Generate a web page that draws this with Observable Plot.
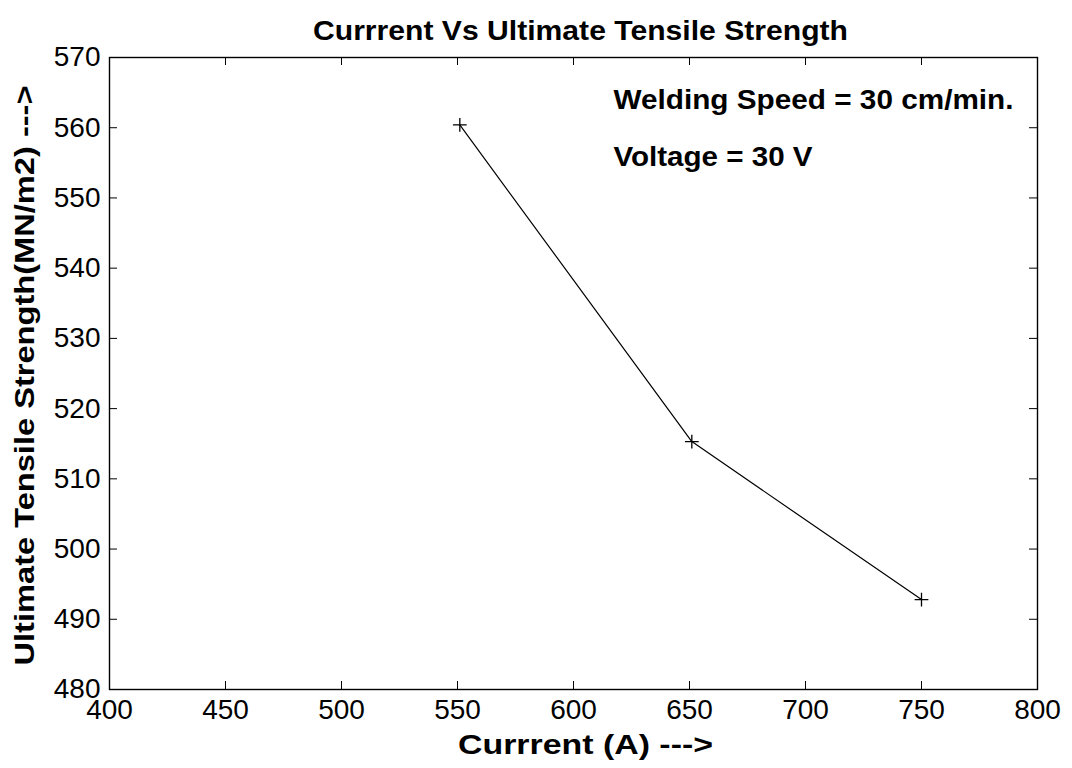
<!DOCTYPE html>
<html><head><meta charset="utf-8">
<script src="https://cdn.jsdelivr.net/npm/d3@7"></script>
<script src="https://cdn.jsdelivr.net/npm/@observablehq/plot@0.6"></script>
<style>body{margin:0;background:#fff;}</style>
</head><body><div id="chart"></div>
<script>
const current = [551, 651, 750];
const uts = [560.4, 515.3, 492.8];
const xTicks = [400, 450, 500, 550, 600, 650, 700, 750, 800];
const yTicks = [480, 490, 500, 510, 520, 530, 540, 550, 560, 570];
const title = "Currrent Vs Ultimate Tensile Strength";
const xLabel = "Currrent (A) --->";
const yLabel = "Ultimate Tensile Strength(MN/m2) --->";
const note1 = "Welding Speed = 30 cm/min.";
const note2 = "Voltage = 30 V";

const data = current.map((c, i) => ({current: c, uts: uts[i]}));
const W = 1072, H = 768, ml = 109, mr = 35, mt = 57, mb = 79;
const pw = W - ml - mr, ph = H - mt - mb;
const font = "'Liberation Sans', Arial, Helvetica, sans-serif";
const bold = {fontWeight: "bold", fontSize: 27, fill: "#000", lineAnchor: "middle"};
const chart = Plot.plot({
  width: W, height: H,
  marginLeft: ml, marginRight: mr, marginTop: mt, marginBottom: mb,
  style: {fontFamily: font, background: "#fff", color: "#000"},
  x: {domain: [400, 800]},
  y: {domain: [480, 570]},
  marks: [
    Plot.frame({stroke: "#000", strokeWidth: 1.4}),
    Plot.tickX(xTicks, {x: d => d, insetTop: ph - 8, stroke: "#000"}),
    Plot.tickX(xTicks, {x: d => d, insetBottom: ph - 8, stroke: "#000"}),
    Plot.tickY(yTicks, {y: d => d, insetRight: pw - 8, stroke: "#000"}),
    Plot.tickY(yTicks, {y: d => d, insetLeft: pw - 8, stroke: "#000"}),
    Plot.axisX(xTicks, {tickSize: 0, tickPadding: 10, fontSize: 28, label: null}),
    Plot.axisY(yTicks, {tickSize: 0, tickPadding: 9, fontSize: 28, label: null}),
    Plot.line(data, {x: "current", y: "uts", stroke: "#000", strokeWidth: 1.2}),
    Plot.dot(data, {x: "current", y: "uts", symbol: "plus", r: 4.5, stroke: "#000", strokeWidth: 1.3}),
    Plot.text([title], {text: d => d, frameAnchor: "top", textAnchor: "middle", dx: 7, dy: -26, ...bold}),
    Plot.text([xLabel], {text: d => d, frameAnchor: "bottom", textAnchor: "middle", dx: 12, dy: 56, ...bold}),
    Plot.text([yLabel], {text: d => d, frameAnchor: "left", textAnchor: "middle", dx: -84, dy: 2, rotate: -90, ...bold}),
    Plot.text([note1], {text: d => d, frameAnchor: "top-left", textAnchor: "start", dx: 504, dy: 43, ...bold}),
    Plot.text([note2], {text: d => d, frameAnchor: "top-left", textAnchor: "start", dx: 504, dy: 100, ...bold})
  ]
});
// stretch bold texts to the reference widths
const lengths = new Map([[title, 535], [xLabel, 255], [yLabel, 580], [note1, 400], [note2, 199]]);
chart.querySelectorAll("text").forEach(t => {
  const L = lengths.get(t.textContent);
  if (L) { t.setAttribute("textLength", L); t.setAttribute("lengthAdjust", "spacingAndGlyphs"); }
});
document.getElementById("chart").appendChild(chart);
</script></body></html>
